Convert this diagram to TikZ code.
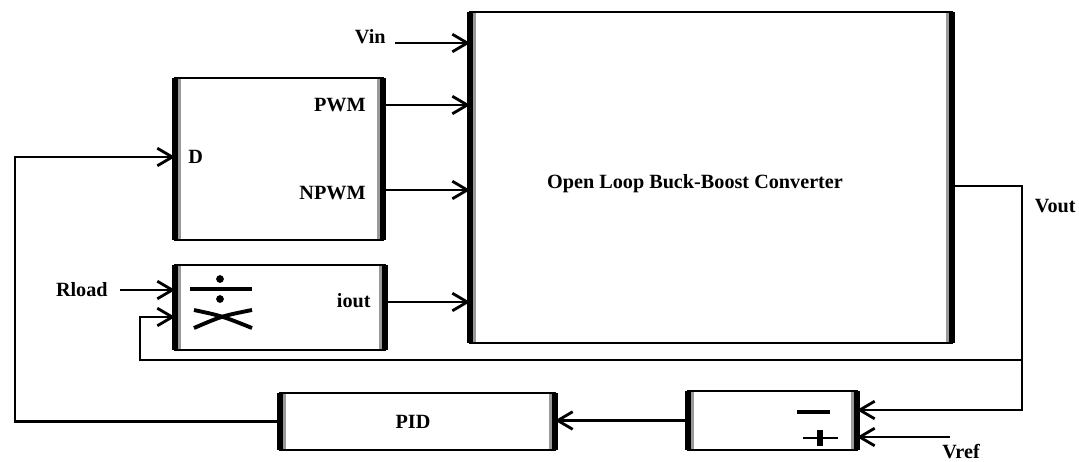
\documentclass[tikz,border=0pt]{standalone}
\usepackage{fontspec}
\setmainfont{Liberation Serif}
\usetikzlibrary{arrows.meta}

\tikzset{
  blk/.style={draw=black, line width=1.4pt, fill=white, inner sep=0pt, outer sep=0pt},
  side/.style={line width=3.6pt},
  sideshade/.style={draw=black!40, line width=1.6pt, shorten <=0.8pt, shorten >=0.8pt},
  wire/.style={line width=1.4pt},
  arr/.style={wire, -{Straight Barb[length=8.5pt,width=10pt,line width=1.6pt]}},
  lbl/.style={font=\fontsize{11.5}{13}\selectfont\bfseries, inner sep=0pt},
  icon/.style={line width=2.6pt},
}

% thick vertical sides of a block, with a grey inner band
\newcommand\blocksides[1]{%
  \draw[sideshade] ([xshift=2.6pt]#1.north west) -- ([xshift=2.6pt]#1.south west);
  \draw[sideshade] ([xshift=-2.6pt]#1.north east) -- ([xshift=-2.6pt]#1.south east);
  \draw[side] (#1.north west) -- (#1.south west);
  \draw[side] (#1.north east) -- (#1.south east);}

\begin{document}
\begin{tikzpicture}[x=0.02cm, y=-0.02cm]
  \useasboundingbox (0,0) rectangle (1079,461);

  % blocks
  \node[blk, minimum width=9.64cm, minimum height=6.62cm] (conv) at (711,177.5) {};
  \node[blk, minimum width=4.16cm, minimum height=3.24cm] (pwm) at (279,159) {};
  \node[blk, minimum width=4.2cm, minimum height=1.7cm] (div) at (280,307.5) {};
  \node[blk, minimum width=5.5cm, minimum height=1.14cm] (pid) at (417.5,421.5) {};
  \node[blk, minimum width=3.38cm, minimum height=1.18cm] (cmp) at (772.5,420.5) {};
  \blocksides{conv}
  \blocksides{pwm}
  \blocksides{div}
  \blocksides{pid}
  \blocksides{cmp}

  % block texts
  \node[lbl] (convtxt) at (695,184) {Open Loop Buck-Boost Converter};
  \node[lbl, anchor=west] (dlbl) at (188,157) {D};
  \node[lbl, anchor=east] (pwmlbl) at (366,105) {PWM};
  \node[lbl, anchor=east] (npwmlbl) at (366,193) {NPWM};
  \node[lbl, anchor=east] (ioutlbl) at (371,301) {iout};
  \node[lbl] (pidlbl) at (413,422) {PID};

  % divide and multiply icons
  \draw[icon] (190,289) -- (252,289);
  \fill (220,279) circle (2.2pt);
  \fill (220,299) circle (2.2pt);
  \draw[line width=2.2pt] (194,310) .. controls (222,316) .. (252,328);
  \draw[line width=2.2pt] (194,328) .. controls (222,316) .. (252,310);

  % sum icons
  \draw[line width=2.8pt] (797,412) -- (830,412);
  \draw[line width=1.6pt] (803,438) -- (838,438);
  \draw[line width=3.4pt] (820,430) -- (820,446);

  % free ends and corners
  \coordinate (vinS) at (395,43);
  \coordinate (pwmY) at (0,105);
  \coordinate (npwmY) at (0,190);
  \coordinate (ioutY) at (0,302);
  \coordinate (vtop) at (1022,186);
  \coordinate (vbot) at (1022,410);
  \coordinate (fbR) at (1022,360);
  \coordinate (fbL) at (140,360);
  \coordinate (fbU) at (140,317);
  \coordinate (rlS) at (120,290);
  \coordinate (vrS) at (950,437);
  \coordinate (lb) at (15,421.5);
  \coordinate (lt) at (15,157);

  % signal labels
  \node[lbl, anchor=east] (vinlbl) at (386,37) {Vin};
  \node[lbl, anchor=east] (voutlbl) at (1076,206) {Vout};
  \node[lbl, anchor=east] (rllbl) at (108,290) {Rload};
  \node[lbl, anchor=west] (vreflbl) at (942,452) {Vref};

  % connectors
  \draw[arr] (vinS) -- (conv.west |- vinS);
  \draw[arr] (pwm.east |- pwmY) -- (conv.west |- pwmY);
  \draw[arr] (pwm.east |- npwmY) -- (conv.west |- npwmY);
  \draw[arr] (div.east |- ioutY) -- (conv.west |- ioutY);
  \draw[arr] (conv.east |- vtop) -- (vtop) -- (vbot) -- (cmp.east |- vbot);
  \draw[arr] (fbR) -- (fbL) -- (fbU) -- (div.west |- fbU);
  \draw[arr] (rlS) -- (div.west |- rlS);
  \draw[arr] (vrS) -- (cmp.east |- vrS);
  \draw[arr] (cmp.west) -- (pid.east |- cmp.west);
  \draw[arr] (pid.west) -- (lb) -- (lt) -- (pwm.west |- lt);
\end{tikzpicture}
\end{document}
